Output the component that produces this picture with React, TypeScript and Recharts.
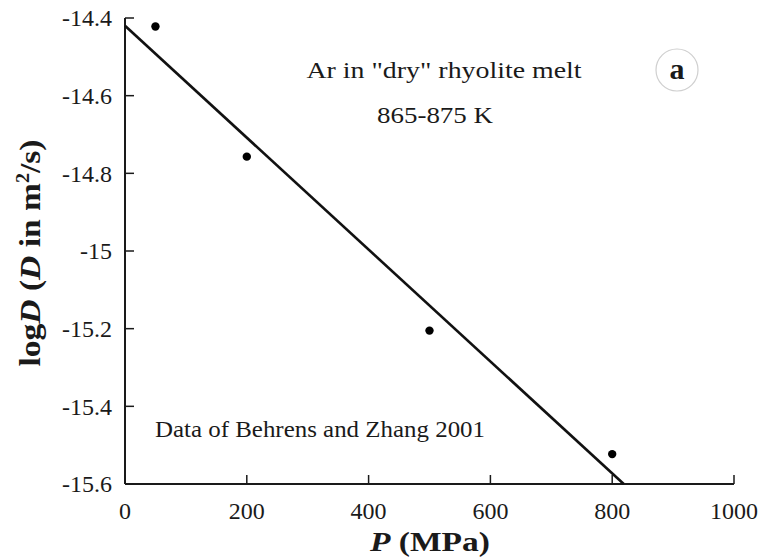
import React from 'react';
import { ComposedChart, Scatter, XAxis, YAxis } from 'recharts';

// Measured data (Behrens and Zhang 2001)
const pressureMPa = [50, 200, 500, 800];
const logDValues = [-14.422, -14.757, -15.205, -15.523];

// Fitted line end points
const fitPressure = [0, 819];
const fitLogD = [-14.42, -15.6];

const xTicks = [0, 200, 400, 600, 800, 1000];
const yTicks = [-15.6, -15.4, -15.2, -15, -14.8, -14.6, -14.4];

const points = pressureMPa.map((p, i) => ({ P: p, logD: logDValues[i] }));
const fitData = fitPressure.map((p, i) => ({ P: p, logD: fitLogD[i] }));

const FONT = 'Liberation Serif, DejaVu Serif, serif';
const INK = '#1a1a1a';
const TICK_LEN = 9;

const fmt = (v: number) => String(Number(v.toFixed(1)));

const txt = (size: number, bold = false): React.CSSProperties => ({
  fontFamily: FONT,
  fontSize: size,
  fontWeight: bold ? 'bold' : 'normal',
});

const BottomTick = (props: any) => {
  const { x, y, payload } = props;
  return (
    <g>
      <line x1={x} x2={x} y1={y} y2={y - TICK_LEN} stroke={INK} strokeWidth={1.5} />
      <text x={x} y={y + 35} textAnchor="middle" style={txt(24)} fill={INK}>
        {fmt(payload.value)}
      </text>
    </g>
  );
};

const TopTick = (props: any) => {
  const { x, y } = props;
  return <line x1={x} x2={x} y1={y} y2={y + TICK_LEN} stroke={INK} strokeWidth={1.5} />;
};

const LeftTick = (props: any) => {
  const { x, y, payload } = props;
  return (
    <g>
      <line x1={x} x2={x + TICK_LEN} y1={y} y2={y} stroke={INK} strokeWidth={1.5} />
      <text x={x - 13} y={y} dy="0.35em" textAnchor="end" style={txt(24)} fill={INK}>
        {fmt(payload.value)}
      </text>
    </g>
  );
};

const RightTick = (props: any) => {
  const { x, y } = props;
  return <line x1={x} x2={x - TICK_LEN} y1={y} y2={y} stroke={INK} strokeWidth={1.5} />;
};

const Dot = (props: any) => <circle cx={props.cx} cy={props.cy} r={4.2} fill="#000" />;
const NoShape = () => <g />;

export default function App() {
  return (
    <div style={{ position: 'absolute', left: 0, top: 0, background: '#fff', fontFamily: FONT }}>
      <ComposedChart
        width={762}
        height={557}
        data={points}
        margin={{ top: 18, right: 28, bottom: 0, left: 0 }}
        style={{ fontFamily: FONT }}
      >
        <XAxis
          dataKey="P"
          type="number"
          domain={[0, 1000]}
          ticks={xTicks}
          interval={0}
          height={73}
          tickSize={0}
          tickMargin={0}
          tickLine={false}
          axisLine={{ stroke: INK, strokeWidth: 2 }}
          tick={<BottomTick />}
        />
        <XAxis
          xAxisId="top"
          orientation="top"
          type="number"
          domain={[0, 1000]}
          ticks={xTicks}
          interval={0}
          height={0}
          tickSize={0}
          tickMargin={0}
          tickLine={false}
          axisLine={{ stroke: INK, strokeWidth: 2 }}
          tick={<TopTick />}
        />
        <YAxis
          dataKey="logD"
          type="number"
          domain={[-15.6, -14.4]}
          ticks={yTicks}
          interval={0}
          width={125}
          tickSize={0}
          tickMargin={0}
          tickLine={false}
          axisLine={{ stroke: INK, strokeWidth: 2 }}
          tick={<LeftTick />}
        />
        <YAxis
          yAxisId="right"
          orientation="right"
          type="number"
          domain={[-15.6, -14.4]}
          ticks={yTicks}
          interval={0}
          width={0}
          tickSize={0}
          tickMargin={0}
          tickLine={false}
          axisLine={{ stroke: INK, strokeWidth: 2 }}
          tick={<RightTick />}
        />
        <Scatter
          data={fitData}
          dataKey="logD"
          line={{ stroke: '#111', strokeWidth: 2.6 }}
          shape={<NoShape />}
          isAnimationActive={false}
        />
        <Scatter data={points} dataKey="logD" shape={<Dot />} isAnimationActive={false} />

        <text x={444} y={78} textAnchor="middle" style={txt(24)} fill={INK}
          textLength={275} lengthAdjust="spacingAndGlyphs">
          Ar in "dry" rhyolite melt
        </text>
        <text x={435} y={123} textAnchor="middle" style={txt(24)} fill={INK}
          textLength={116} lengthAdjust="spacingAndGlyphs">
          865-875 K
        </text>
        <text x={155} y={437} style={txt(24)} fill={INK}
          textLength={330} lengthAdjust="spacingAndGlyphs">
          Data of Behrens and Zhang 2001
        </text>
        <circle cx={677} cy={70} r={21} fill="none" stroke="#cfcfcf" strokeWidth={1.2} />
        <text x={677} y={79} textAnchor="middle" style={txt(30, true)} fill={INK}>
          a
        </text>
        <text x={430} y={551} textAnchor="middle" style={txt(28, true)} fill={INK}
          textLength={120} lengthAdjust="spacingAndGlyphs">
          <tspan fontStyle="italic">P</tspan> (MPa)
        </text>
        <text transform="rotate(-90)" x={-253} y={40} textAnchor="middle" style={txt(30, true)}
          fill={INK} textLength={227} lengthAdjust="spacingAndGlyphs">
          log<tspan fontStyle="italic">D</tspan> (<tspan fontStyle="italic">D</tspan> in m
          <tspan dy={-11} fontSize={18}>2</tspan>
          <tspan dy={11}>/s)</tspan>
        </text>
      </ComposedChart>
    </div>
  );
}
